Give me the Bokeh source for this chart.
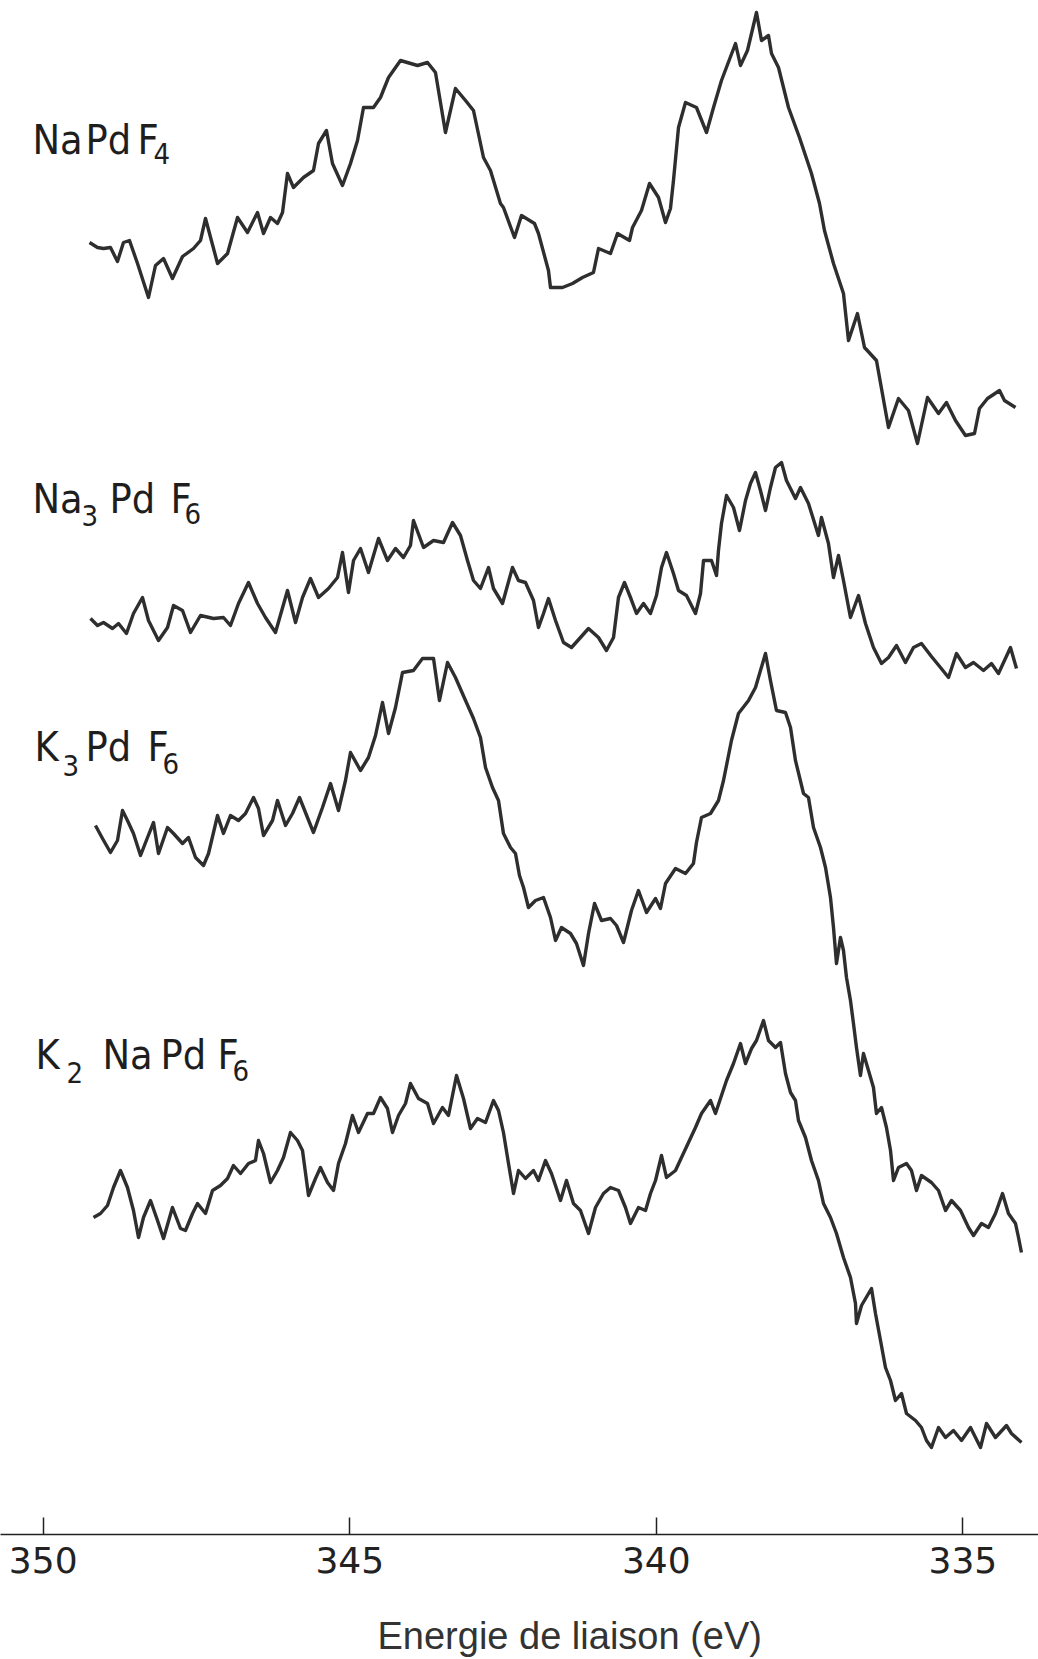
from bokeh.plotting import figure
from bokeh.models import Range1d, FixedTicker, Label, Title
from bokeh.embed import file_html
from bokeh.resources import INLINE

# ---------------- data (binding energy in eV, intensity in arbitrary stacked units) ----------------
energy_napdf4 = [349.245, 349.115, 349.017, 348.903, 348.789, 348.691, 348.593, 348.462, 348.283, 348.169,
                 348.038, 347.892, 347.728, 347.549, 347.435, 347.353, 347.157, 346.994, 346.831, 346.668,
                 346.505, 346.407, 346.293, 346.179, 346.097, 346.016, 345.918, 345.755, 345.592, 345.510,
                 345.380, 345.282, 345.119, 344.988, 344.874, 344.776, 344.613, 344.499, 344.368, 344.173,
                 343.895, 343.732, 343.602, 343.439, 343.276, 343.112, 342.982, 342.819, 342.705, 342.542,
                 342.493, 342.313, 342.199, 341.987, 341.922, 341.759, 341.726, 341.530, 341.367, 341.204,
                 341.025, 340.943, 340.747, 340.633, 340.437, 340.388, 340.242, 340.111, 339.964, 339.850,
                 339.769, 339.720, 339.638, 339.524, 339.345, 339.181, 339.067, 338.937, 338.708, 338.627,
                 338.513, 338.366, 338.284, 338.170, 338.121, 338.007, 337.844, 337.665, 337.469, 337.338,
                 337.257, 337.110, 336.947, 336.865, 336.719, 336.604, 336.409, 336.213, 336.050, 335.887,
                 335.740, 335.577, 335.397, 335.267, 335.120, 334.957, 334.810, 334.729, 334.598, 334.402,
                 334.321, 334.141]
counts_napdf4 = [129.2, 128.7, 128.6, 128.7, 127.3, 129.2, 129.4, 127.1, 123.7, 126.9,
                 127.6, 125.6, 127.8, 128.6, 129.4, 131.6, 127.1, 128.1, 131.7, 130.2,
                 132.2, 130.1, 131.7, 131.1, 132.2, 136.1, 134.7, 135.7, 136.4, 139.1,
                 140.4, 137.1, 134.9, 137.1, 139.4, 142.7, 142.7, 143.7, 145.7, 147.4,
                 146.9, 147.2, 146.2, 140.2, 144.6, 143.4, 142.4, 137.7, 136.4, 133.1,
                 132.7, 129.7, 131.9, 131.1, 130.1, 126.4, 124.7, 124.7, 125.1, 125.7,
                 126.2, 128.6, 128.1, 130.1, 129.4, 130.7, 132.4, 135.1, 133.7, 131.2,
                 132.6, 135.4, 140.7, 143.2, 142.7, 140.2, 142.7, 145.4, 149.1, 146.9,
                 148.4, 152.2, 149.4, 149.9, 148.1, 146.7, 142.7, 139.7, 136.1, 133.1,
                 130.4, 127.1, 124.1, 119.4, 122.1, 118.7, 117.4, 110.7, 113.6, 112.4,
                 109.1, 113.7, 112.1, 113.2, 111.4, 109.9, 110.1, 112.6, 113.6, 114.4,
                 113.4, 112.7]

energy_na3pdf6 = [349.229, 349.115, 349.017, 348.870, 348.772, 348.642, 348.528, 348.381, 348.283, 348.120,
                  347.973, 347.875, 347.728, 347.598, 347.435, 347.223, 347.060, 346.946, 346.815, 346.652,
                  346.505, 346.375, 346.212, 346.016, 345.885, 345.771, 345.641, 345.510, 345.347, 345.200,
                  345.119, 345.021, 344.939, 344.825, 344.695, 344.531, 344.385, 344.254, 344.124, 344.010,
                  343.961, 343.797, 343.634, 343.471, 343.324, 343.194, 343.080, 342.982, 342.868, 342.737,
                  342.656, 342.509, 342.346, 342.248, 342.134, 342.003, 341.922, 341.840, 341.759, 341.644,
                  341.514, 341.383, 341.237, 341.106, 340.943, 340.813, 340.698, 340.617, 340.519, 340.421,
                  340.323, 340.209, 340.095, 339.997, 339.915, 339.834, 339.720, 339.638, 339.508, 339.361,
                  339.279, 339.230, 339.100, 339.018, 338.986, 338.937, 338.855, 338.741, 338.643, 338.545,
                  338.464, 338.382, 338.301, 338.219, 338.138, 338.056, 337.958, 337.877, 337.730, 337.648,
                  337.518, 337.355, 337.306, 337.192, 337.110, 337.028, 336.947, 336.833, 336.702, 336.588,
                  336.458, 336.327, 336.213, 336.082, 335.936, 335.805, 335.675, 335.512, 335.365, 335.234,
                  335.104, 334.957, 334.826, 334.663, 334.533, 334.419, 334.223, 334.125]
counts_na3pdf6 = [91.6, 90.9, 91.2, 90.6, 91.1, 90.1, 92.1, 93.7, 91.4, 89.4,
                  90.7, 92.9, 92.4, 90.2, 91.9, 91.6, 91.7, 90.9, 93.1, 95.2,
                  93.1, 91.7, 90.2, 94.4, 91.2, 93.7, 95.6, 93.7, 94.6, 95.7,
                  98.2, 94.2, 97.4, 98.6, 96.2, 99.6, 97.4, 98.6, 97.7, 98.9,
                  101.4, 98.7, 99.4, 99.2, 101.2, 99.9, 97.4, 95.4, 94.6, 96.7,
                  94.6, 93.1, 96.7, 95.4, 95.2, 93.4, 90.7, 92.1, 93.6, 91.4,
                  89.2, 88.7, 89.7, 90.6, 89.7, 88.4, 89.7, 93.7, 95.2, 93.7,
                  92.1, 93.1, 92.1, 93.9, 96.7, 98.2, 96.1, 94.4, 93.9, 92.1,
                  94.1, 97.4, 97.4, 95.9, 98.4, 101.1, 103.9, 102.7, 100.4, 103.4,
                  105.1, 106.2, 104.4, 102.4, 104.7, 106.7, 107.2, 105.4, 103.6, 104.7,
                  103.1, 99.9, 101.7, 99.1, 95.7, 97.9, 95.4, 91.7, 93.9, 91.1,
                  88.7, 87.1, 87.7, 88.9, 87.2, 88.7, 89.1, 87.8, 86.7, 85.7,
                  88.1, 86.7, 87.2, 86.4, 87.1, 86.1, 88.7, 86.6]

energy_k3pdf6 = [349.148, 349.033, 348.903, 348.789, 348.707, 348.626, 348.528, 348.413, 348.299, 348.201,
                 348.120, 347.973, 347.875, 347.728, 347.631, 347.516, 347.386, 347.304, 347.157, 347.060,
                 346.946, 346.815, 346.701, 346.570, 346.489, 346.407, 346.260, 346.179, 346.048, 345.934,
                 345.820, 345.690, 345.592, 345.445, 345.314, 345.184, 345.070, 344.988, 344.825, 344.695,
                 344.580, 344.466, 344.368, 344.254, 344.140, 343.961, 343.814, 343.634, 343.537, 343.406,
                 343.276, 343.112, 342.982, 342.868, 342.786, 342.672, 342.574, 342.493, 342.378, 342.297,
                 342.232, 342.166, 342.085, 341.971, 341.840, 341.726, 341.644, 341.547, 341.400, 341.302,
                 341.188, 341.106, 341.008, 340.894, 340.747, 340.649, 340.535, 340.405, 340.291, 340.160,
                 340.013, 339.932, 339.850, 339.687, 339.524, 339.394, 339.345, 339.263, 339.116, 338.986,
                 338.904, 338.774, 338.660, 338.496, 338.382, 338.219, 338.138, 338.040, 337.893, 337.811,
                 337.730, 337.599, 337.518, 337.436, 337.322, 337.240, 337.159, 337.110, 337.061, 336.996,
                 336.947, 336.898, 336.833, 336.784, 336.735, 336.670, 336.621, 336.539, 336.458, 336.409,
                 336.327, 336.246, 336.180, 336.131, 336.050, 335.919, 335.838, 335.756, 335.675, 335.512,
                 335.397, 335.283, 335.185, 335.038, 334.908, 334.826, 334.696, 334.582, 334.468, 334.353,
                 334.256, 334.141, 334.092, 334.044]
counts_k3pdf6 = [70.9, 69.6, 68.2, 69.4, 72.4, 71.4, 70.1, 67.9, 69.7, 71.2,
                 68.1, 70.7, 70.1, 69.1, 69.7, 67.7, 66.9, 68.1, 71.9, 70.1,
                 71.9, 71.4, 72.1, 73.7, 72.6, 69.9, 71.4, 73.4, 70.9, 72.1,
                 73.7, 71.7, 70.2, 72.7, 75.1, 72.4, 75.4, 78.2, 76.4, 77.7,
                 79.9, 83.2, 80.1, 82.7, 86.2, 86.4, 87.6, 87.6, 83.4, 87.2,
                 85.7, 83.4, 81.6, 79.7, 76.7, 74.7, 73.4, 70.1, 68.7, 68.1,
                 65.9, 64.7, 62.7, 63.4, 63.7, 61.7, 59.4, 60.7, 60.1, 59.1,
                 56.9, 60.1, 63.1, 61.4, 61.6, 60.9, 59.2, 62.4, 64.4, 62.2,
                 63.6, 62.6, 65.1, 66.6, 66.1, 67.1, 69.2, 71.7, 72.1, 73.4,
                 75.4, 79.4, 82.1, 83.4, 84.7, 88.1, 85.4, 82.4, 82.2, 80.7,
                 77.4, 74.1, 73.7, 70.7, 68.7, 66.7, 63.7, 60.7, 57.1, 59.7,
                 58.4, 55.7, 53.4, 51.1, 48.7, 45.9, 48.1, 46.4, 44.7, 42.1,
                 42.7, 40.7, 38.4, 35.4, 36.7, 37.1, 36.4, 34.4, 35.9, 35.2,
                 34.4, 32.4, 33.4, 32.4, 30.7, 29.9, 31.1, 30.7, 32.1, 34.1,
                 32.1, 31.1, 29.7, 28.2]

energy_k2napdf6 = [349.180, 349.066, 348.952, 348.854, 348.740, 348.626, 348.528, 348.446, 348.365, 348.250,
                   348.136, 348.038, 347.892, 347.761, 347.680, 347.565, 347.484, 347.353, 347.239, 347.109,
                   346.994, 346.897, 346.782, 346.652, 346.538, 346.489, 346.407, 346.293, 346.179, 346.081,
                   345.967, 345.853, 345.771, 345.673, 345.559, 345.478, 345.363, 345.265, 345.184, 345.070,
                   344.956, 344.858, 344.711, 344.613, 344.499, 344.385, 344.303, 344.205, 344.091, 344.010,
                   343.879, 343.732, 343.634, 343.488, 343.390, 343.259, 343.145, 343.031, 342.917, 342.786,
                   342.656, 342.574, 342.493, 342.411, 342.329, 342.248, 342.134, 342.003, 341.922, 341.808,
                   341.710, 341.563, 341.465, 341.351, 341.237, 341.106, 340.992, 340.862, 340.747, 340.617,
                   340.503, 340.421, 340.291, 340.176, 340.095, 340.013, 339.915, 339.834, 339.687, 339.589,
                   339.475, 339.361, 339.263, 339.116, 339.035, 338.937, 338.855, 338.741, 338.627, 338.545,
                   338.447, 338.366, 338.252, 338.170, 338.056, 337.974, 337.893, 337.811, 337.730, 337.681,
                   337.567, 337.469, 337.355, 337.273, 337.159, 337.061, 336.947, 336.833, 336.751, 336.735,
                   336.653, 336.490, 336.425, 336.343, 336.262, 336.180, 336.099, 336.001, 335.919, 335.772,
                   335.675, 335.593, 335.512, 335.397, 335.283, 335.153, 335.022, 334.875, 334.712, 334.614,
                   334.468, 334.288, 334.207, 334.044]
counts_k2napdf6 = [31.7, 32.1, 32.9, 34.7, 36.4, 34.7, 32.4, 29.7, 31.7, 33.4,
                   31.4, 29.6, 32.7, 30.6, 30.4, 32.1, 33.1, 32.1, 34.4, 34.9,
                   35.6, 36.9, 36.1, 37.1, 37.4, 39.4, 38.1, 35.2, 36.4, 37.7,
                   40.2, 39.4, 38.4, 33.9, 35.6, 36.7, 35.2, 34.4, 37.1, 39.1,
                   41.9, 40.2, 42.1, 42.1, 43.7, 42.6, 40.2, 41.9, 43.1, 45.1,
                   43.6, 43.1, 41.1, 42.7, 41.9, 45.9, 43.6, 40.6, 41.6, 41.2,
                   43.4, 42.4, 40.2, 37.1, 34.1, 36.4, 35.6, 36.4, 35.4, 37.4,
                   36.1, 33.4, 35.4, 33.1, 32.4, 30.1, 32.7, 34.1, 34.7, 34.4,
                   32.7, 31.1, 32.7, 32.4, 34.1, 35.4, 37.9, 35.7, 36.4, 37.7,
                   39.2, 40.7, 42.1, 43.4, 42.1, 43.9, 45.4, 47.1, 49.1, 47.1,
                   48.6, 49.4, 51.4, 49.4, 48.7, 49.2, 46.1, 44.2, 43.4, 41.4,
                   39.7, 37.4, 35.4, 33.1, 31.7, 30.1, 27.7, 25.7, 23.1, 21.1,
                   22.9, 24.6, 22.1, 19.4, 16.7, 15.4, 13.4, 14.1, 12.1, 11.4,
                   10.7, 9.4, 8.7, 10.7, 9.7, 10.4, 9.4, 10.7, 8.7, 11.1,
                   9.7, 10.9, 10.1, 9.2]

tick_values = [350, 345, 340, 335]
axis_title = "Energie de liaison  (eV)"

# label pieces: (text, eV, intensity, is_subscript)
label_pieces = [
    ("Na", 350.175, 139.45, False), ("Pd", 349.311, 139.45, False), ("F", 348.462, 139.45, False), ("4", 348.201, 138.1, True),
    ("Na", 350.175, 103.55, False), ("3", 349.376, 101.9, True), ("Pd", 348.919, 103.55, False), ("F", 347.924, 103.55, False), ("6", 347.696, 102.1, True),
    ("K", 350.142, 78.75, False), ("3", 349.686, 76.9, True), ("Pd", 349.311, 78.75, False), ("F", 348.299, 78.75, False), ("6", 348.055, 77.1, True),
    ("K", 350.126, 47.95, False), ("2", 349.620, 46.2, True), ("Na", 349.033, 47.95, False), ("Pd", 348.087, 47.95, False), ("F", 347.158, 47.95, False), ("6", 346.913, 46.4, True),
]

# ---------------- figure ----------------
p = figure(width=1038, height=1659,
           x_range=Range1d(350.697, 333.766), y_range=Range1d(0, 153.4),
           output_backend="svg", toolbar_location=None,
           y_axis_location=None,
           min_border_left=0, min_border_right=0, min_border_top=0, min_border_bottom=125)
p.outline_line_color = None
p.grid.visible = False
p.background_fill_color = "white"
p.border_fill_color = "white"

trace_color = "#2e2e2e"
for ex, cy in [(energy_napdf4, counts_napdf4), (energy_na3pdf6, counts_na3pdf6),
               (energy_k3pdf6, counts_k3pdf6), (energy_k2napdf6, counts_k2napdf6)]:
    p.line(ex, cy, line_color=trace_color, line_width=3.4, line_join="round")

ax = p.xaxis[0]
ax.ticker = FixedTicker(ticks=tick_values)
ax.minor_tick_line_color = None
ax.major_tick_in = 17
ax.major_tick_out = 0
ax.major_tick_line_width = 1.5
ax.major_tick_line_color = "#222222"
ax.axis_line_width = 1.5
ax.axis_line_color = "#222222"
ax.major_label_text_font = "DejaVu Sans"
ax.major_label_text_font_size = "36px"
ax.major_label_text_color = "#222222"
ax.major_label_standoff = 12

label_font = "Liberation Sans Narrow, DejaVu Sans Condensed, Liberation Sans"
for txt, ex, cy, sub in label_pieces:
    p.add_layout(Label(x=ex, y=cy, text=txt, text_font=label_font,
                       text_font_size="29px" if sub else "41px",
                       text_baseline="alphabetic", text_align="left",
                       text_color="#1e1e1e"))

# spacer between tick labels and the axis title
p.add_layout(Title(text=" ", standoff=0, text_font_size="31px"), "below")
p.add_layout(Title(text=axis_title, align="left", offset=377, standoff=0,
                   text_font="Liberation Sans", text_font_size="38px",
                   text_font_style="normal", text_color="#333333"), "below")

open("out.html", "w").write(file_html(p, INLINE))
